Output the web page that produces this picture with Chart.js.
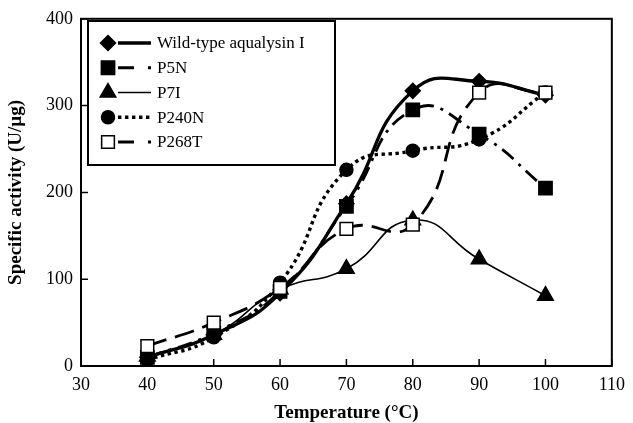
<!DOCTYPE html>
<html><head><meta charset="utf-8">
<script src="https://cdn.jsdelivr.net/npm/chart.js@4/dist/chart.umd.min.js"></script>
<style>html,body{margin:0;padding:0;background:#fff}</style>
</head><body>
<canvas id="c" width="633" height="423" style="display:block;width:633px;height:423px"></canvas>
<script>
const temperatures = [40, 50, 60, 70, 80, 90, 100];
const wildType = [10, 36, 84, 187, 317, 328, 312];
const p5n = [10, 38, 86, 184, 295, 267, 205];
const p7i = [11, 36, 88, 112, 168, 123, 81];
const p240n = [7, 33, 96, 226, 248, 261, 315];
const p268t = [23, 50, 90, 158, 163, 315, 315];
const seriesLabels = ['Wild-type aqualysin I', 'P5N', 'P7I', 'P240N', 'P268T'];
const xTickValues = [30, 40, 50, 60, 70, 80, 90, 100, 110];
const yTickValues = [0, 100, 200, 300, 400];

const FONT = '"Liberation Serif", "Times New Roman", serif';
const toPts = arr => arr.map((v, i) => ({x: temperatures[i], y: v}));

const styles = [
  {pointStyle: 'rectRot', radius: 7.5, fill: '#000', width: 3.3, dash: [], legendDash: []},
  {pointStyle: 'rect', radius: 9.4, fill: '#000', width: 2.8, dash: [15, 7, 3, 7], legendDash: [16, 14, 3, 10]},
  {pointStyle: 'triangle', radius: 9, fill: '#000', width: 1.6, dash: [], legendDash: []},
  {pointStyle: 'circle', radius: 6.5, fill: '#000', width: 3.4, dash: [3.4, 3.6], legendDash: [3.4, 3.6]},
  {pointStyle: 'rect', radius: 9, fill: '#fff', width: 2.8, dash: [20, 9], legendDash: [16, 14, 3, 10]}
];
const seriesData = [wildType, p5n, p7i, p240n, p268t];

const datasets = seriesData.map((d, i) => ({
  label: seriesLabels[i],
  data: toPts(d),
  borderColor: '#000',
  borderWidth: styles[i].width,
  borderDash: styles[i].dash,
  tension: 0.5,
  pointStyle: styles[i].pointStyle,
  pointRadius: styles[i].radius,
  pointBackgroundColor: styles[i].fill,
  pointBorderColor: '#000',
  pointBorderWidth: 1.5,
  order: 4 - i,
  legendDash: styles[i].legendDash
}));

function drawMarker(ctx, st, x, y) {
  ctx.save();
  ctx.setLineDash([]);
  ctx.fillStyle = st.fill;
  ctx.strokeStyle = '#000';
  ctx.lineWidth = 1.5;
  const r = st.radius;
  ctx.beginPath();
  if (st.pointStyle === 'rectRot') {
    ctx.moveTo(x, y - r); ctx.lineTo(x + r, y); ctx.lineTo(x, y + r); ctx.lineTo(x - r, y); ctx.closePath();
  } else if (st.pointStyle === 'rect') {
    const s = r * Math.SQRT1_2;
    ctx.rect(x - s, y - s, 2 * s, 2 * s);
  } else if (st.pointStyle === 'triangle') {
    const a = 2 * Math.PI / 3;
    ctx.moveTo(x, y - r);
    ctx.lineTo(x + Math.sin(a) * r, y - Math.cos(a) * r);
    ctx.lineTo(x + Math.sin(2 * a) * r, y - Math.cos(2 * a) * r);
    ctx.closePath();
  } else {
    ctx.arc(x, y, r, 0, Math.PI * 2);
  }
  ctx.fill(); ctx.stroke();
  ctx.restore();
}

const framePlugin = {
  id: 'frame',
  beforeDatasetsDraw(chart) {
    const {ctx, chartArea: a, scales} = chart;
    ctx.save();
    ctx.strokeStyle = '#000';
    ctx.lineWidth = 2;
    ctx.strokeRect(a.left, a.top, a.right - a.left, a.bottom - a.top);
    ctx.lineWidth = 1.5;
    ctx.beginPath();
    xTickValues.forEach(v => {
      const x = scales.x.getPixelForValue(v);
      ctx.moveTo(x, a.bottom); ctx.lineTo(x, a.bottom - 7);
    });
    yTickValues.forEach(v => {
      const y = scales.y.getPixelForValue(v);
      ctx.moveTo(a.left, y); ctx.lineTo(a.left + 7, y);
    });
    ctx.stroke();
    ctx.restore();
  },
  afterDraw(chart) {
    const {ctx} = chart;
    ctx.save();
    const bx = 88, by = 21, bw = 247, bh = 144;
    ctx.fillStyle = '#fff';
    ctx.fillRect(bx, by, bw, bh);
    ctx.strokeStyle = '#000';
    ctx.lineWidth = 2;
    ctx.strokeRect(bx, by, bw, bh);
    ctx.font = '17px ' + FONT;
    ctx.textBaseline = 'middle';
    ctx.fillStyle = '#000';
    chart.data.datasets.forEach((ds, i) => {
      const y = 43 + i * 24.75;
      ctx.save();
      ctx.strokeStyle = '#000';
      ctx.lineWidth = styles[i].width;
      ctx.setLineDash(ds.legendDash);
      ctx.beginPath();
      ctx.moveTo(118, y); ctx.lineTo(151, y);
      ctx.stroke();
      ctx.restore();
      drawMarker(ctx, styles[i], 108, y);
      ctx.fillText(ds.label, 157, y + 1);
    });
    ctx.restore();
  }
};

new Chart(document.getElementById('c'), {
  type: 'line',
  data: {datasets},
  options: {
    responsive: false,
    animation: false,
    devicePixelRatio: 1,
    layout: {padding: {left: 0, top: 15, right: 16, bottom: 0}},
    plugins: {legend: {display: false}, tooltip: {enabled: false}},
    scales: {
      x: {
        type: 'linear', min: 30, max: 110,
        afterFit: s => { s.height = 57; },
        afterBuildTicks: s => { s.ticks = xTickValues.map(v => ({value: v})); },
        grid: {display: false, drawTicks: false},
        border: {display: false},
        ticks: {color: '#000', font: {family: FONT, size: 18}, padding: 8, maxRotation: 0},
        title: {display: true, text: 'Temperature (°C)', color: '#000', font: {family: FONT, size: 19, weight: 'bold', lineHeight: 1}, padding: {top: 0, bottom: 0}}
      },
      y: {
        min: 0, max: 400,
        afterFit: s => { s.width = 81; },
        afterBuildTicks: s => { s.ticks = yTickValues.map(v => ({value: v})); },
        grid: {display: false, drawTicks: false},
        border: {display: false},
        ticks: {color: '#000', font: {family: FONT, size: 18}, padding: 8},
        title: {display: true, text: 'Specific activity (U/µg)', color: '#000', font: {family: FONT, size: 19, weight: 'bold', lineHeight: 1}, padding: {top: 7, bottom: 0}}
      }
    }
  },
  plugins: [framePlugin]
});
</script>
</body></html>
